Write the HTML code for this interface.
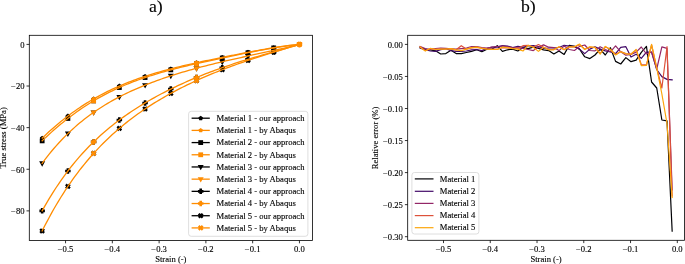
<!DOCTYPE html><html><head><meta charset="utf-8"><style>html,body{margin:0;padding:0;background:#fff;width:685px;height:264px;overflow:hidden}svg text{font-family:"Liberation Serif",serif;stroke:#000;stroke-width:0.12px}svg{will-change:transform}</style></head><body><svg width="685" height="264" viewBox="0 0 685 264" style="position:absolute;left:0;top:0" font-family="Liberation Serif" font-size="8.62">
<rect width="685" height="264" fill="#fff"/>
<defs><clipPath id="cl"><rect x="29.3" y="35.3" width="283.09999999999997" height="205.2"/></clipPath><clipPath id="cr"><rect x="407.7" y="35.3" width="276.7" height="205.0"/></clipPath></defs>
<g clip-path="url(#cl)">
<polygon points="273.72,45.29 276.05,46.98 275.16,49.72 272.28,49.72 271.39,46.98" fill="#000"/>
<polygon points="247.99,49.85 250.32,51.54 249.43,54.28 246.55,54.28 245.66,51.54" fill="#000"/>
<polygon points="222.26,54.91 224.59,56.61 223.70,59.35 220.82,59.35 219.93,56.61" fill="#000"/>
<polygon points="196.53,60.34 198.86,62.03 197.97,64.77 195.09,64.77 194.20,62.03" fill="#000"/>
<polygon points="170.80,66.44 173.14,68.13 172.25,70.87 169.36,70.87 168.47,68.13" fill="#000"/>
<polygon points="145.08,73.89 147.41,75.58 146.52,78.32 143.64,78.32 142.75,75.58" fill="#000"/>
<polygon points="119.35,83.58 121.68,85.27 120.79,88.01 117.91,88.01 117.02,85.27" fill="#000"/>
<polygon points="93.62,96.49 95.95,98.19 95.06,100.93 92.18,100.93 91.29,98.19" fill="#000"/>
<polygon points="67.89,113.59 70.22,115.29 69.33,118.03 66.45,118.03 65.56,115.29" fill="#000"/>
<polygon points="42.16,135.69 44.49,137.39 43.60,140.13 40.72,140.13 39.83,137.39" fill="#000"/>
<rect x="271.32" y="45.50" width="4.80" height="4.80" fill="#000"/>
<rect x="245.59" y="50.33" width="4.80" height="4.80" fill="#000"/>
<rect x="219.86" y="55.63" width="4.80" height="4.80" fill="#000"/>
<rect x="194.13" y="61.23" width="4.80" height="4.80" fill="#000"/>
<rect x="168.40" y="67.48" width="4.80" height="4.80" fill="#000"/>
<rect x="142.68" y="75.14" width="4.80" height="4.80" fill="#000"/>
<rect x="116.95" y="85.14" width="4.80" height="4.80" fill="#000"/>
<rect x="91.22" y="98.48" width="4.80" height="4.80" fill="#000"/>
<rect x="65.49" y="116.06" width="4.80" height="4.80" fill="#000"/>
<rect x="39.76" y="138.47" width="4.80" height="4.80" fill="#000"/>
<polygon points="270.72,48.45 276.72,48.45 273.72,53.85" fill="#000"/>
<polygon points="244.99,53.99 250.99,53.99 247.99,59.39" fill="#000"/>
<polygon points="219.26,59.76 225.26,59.76 222.26,65.16" fill="#000"/>
<polygon points="193.53,66.24 199.53,66.24 196.53,71.64" fill="#000"/>
<polygon points="167.80,73.86 173.80,73.86 170.80,79.26" fill="#000"/>
<polygon points="142.08,83.13 148.08,83.13 145.08,88.53" fill="#000"/>
<polygon points="116.35,94.89 122.35,94.89 119.35,100.29" fill="#000"/>
<polygon points="90.62,110.41 96.62,110.41 93.62,115.81" fill="#000"/>
<polygon points="64.89,131.61 70.89,131.61 67.89,137.01" fill="#000"/>
<polygon points="39.16,161.26 45.16,161.26 42.16,166.66" fill="#000"/>
<path d="M272.42,49.07h2.60v1.45h1.45v2.60h-1.45v1.45h-2.60v-1.45h-1.45v-2.60h1.45z" fill="#000"/>
<path d="M246.69,56.55h2.60v1.45h1.45v2.60h-1.45v1.45h-2.60v-1.45h-1.45v-2.60h1.45z" fill="#000"/>
<path d="M220.96,64.94h2.60v1.45h1.45v2.60h-1.45v1.45h-2.60v-1.45h-1.45v-2.60h1.45z" fill="#000"/>
<path d="M195.23,74.73h2.60v1.45h1.45v2.60h-1.45v1.45h-2.60v-1.45h-1.45v-2.60h1.45z" fill="#000"/>
<path d="M169.50,86.30h2.60v1.45h1.45v2.60h-1.45v1.45h-2.60v-1.45h-1.45v-2.60h1.45z" fill="#000"/>
<path d="M143.78,100.18h2.60v1.45h1.45v2.60h-1.45v1.45h-2.60v-1.45h-1.45v-2.60h1.45z" fill="#000"/>
<path d="M118.05,117.28h2.60v1.45h1.45v2.60h-1.45v1.45h-2.60v-1.45h-1.45v-2.60h1.45z" fill="#000"/>
<path d="M92.32,139.15h2.60v1.45h1.45v2.60h-1.45v1.45h-2.60v-1.45h-1.45v-2.60h1.45z" fill="#000"/>
<path d="M66.59,168.24h2.60v1.45h1.45v2.60h-1.45v1.45h-2.60v-1.45h-1.45v-2.60h1.45z" fill="#000"/>
<path d="M40.86,208.10h2.60v1.45h1.45v2.60h-1.45v1.45h-2.60v-1.45h-1.45v-2.60h1.45z" fill="#000"/>
<polygon points="274.85,49.38 276.55,51.08 275.42,52.21 276.55,53.34 274.85,55.04 273.72,53.91 272.59,55.04 270.89,53.34 272.02,52.21 270.89,51.08 272.59,49.38 273.72,50.51" fill="#000"/>
<polygon points="249.12,57.62 250.82,59.32 249.69,60.45 250.82,61.58 249.12,63.27 247.99,62.14 246.86,63.27 245.16,61.58 246.29,60.45 245.16,59.32 246.86,57.62 247.99,58.75" fill="#000"/>
<polygon points="223.39,66.91 225.09,68.61 223.96,69.74 225.09,70.87 223.39,72.57 222.26,71.43 221.13,72.57 219.43,70.87 220.57,69.74 219.43,68.61 221.13,66.91 222.26,68.04" fill="#000"/>
<polygon points="197.67,77.72 199.36,79.42 198.23,80.55 199.36,81.68 197.67,83.38 196.53,82.25 195.40,83.38 193.71,81.68 194.84,80.55 193.71,79.42 195.40,77.72 196.53,78.85" fill="#000"/>
<polygon points="171.94,90.56 173.63,92.26 172.50,93.39 173.63,94.52 171.94,96.22 170.80,95.08 169.67,96.22 167.98,94.52 169.11,93.39 167.98,92.26 169.67,90.56 170.80,91.69" fill="#000"/>
<polygon points="146.21,106.13 147.90,107.83 146.77,108.96 147.90,110.09 146.21,111.79 145.08,110.66 143.94,111.79 142.25,110.09 143.38,108.96 142.25,107.83 143.94,106.13 145.08,107.27" fill="#000"/>
<polygon points="120.48,125.57 122.18,127.26 121.04,128.39 122.18,129.53 120.48,131.22 119.35,130.09 118.22,131.22 116.52,129.53 117.65,128.39 116.52,127.26 118.22,125.57 119.35,126.70" fill="#000"/>
<polygon points="94.75,150.56 96.45,152.26 95.32,153.39 96.45,154.52 94.75,156.22 93.62,155.09 92.49,156.22 90.79,154.52 91.92,153.39 90.79,152.26 92.49,150.56 93.62,151.69" fill="#000"/>
<polygon points="69.02,183.60 70.72,185.30 69.59,186.43 70.72,187.56 69.02,189.26 67.89,188.12 66.76,189.26 65.06,187.56 66.19,186.43 65.06,185.30 66.76,183.60 67.89,184.73" fill="#000"/>
<polygon points="43.29,228.13 44.99,229.83 43.86,230.96 44.99,232.09 43.29,233.79 42.16,232.66 41.03,233.79 39.33,232.09 40.46,230.96 39.33,229.83 41.03,228.13 42.16,229.26" fill="#000"/>
<polyline points="299.45,44.40 297.11,44.62 294.77,44.86 292.43,45.12 290.09,45.40 287.75,45.69 285.42,46.00 283.08,46.32 280.74,46.66 278.40,47.01 276.06,47.36 273.72,47.74 271.38,48.11 269.04,48.50 266.70,48.90 264.37,49.31 262.03,49.72 259.69,50.13 257.35,50.56 255.01,50.99 252.67,51.42 250.33,51.86 247.99,52.30 245.65,52.75 243.31,53.19 240.97,53.65 238.64,54.10 236.30,54.56 233.96,55.02 231.62,55.48 229.28,55.95 226.94,56.42 224.60,56.89 222.26,57.36 219.92,57.84 217.58,58.32 215.25,58.80 212.91,59.29 210.57,59.77 208.23,60.27 205.89,60.76 203.55,61.26 201.21,61.76 198.87,62.27 196.53,62.79 194.19,63.30 191.86,63.83 189.52,64.36 187.18,64.90 184.84,65.44 182.50,65.99 180.16,66.55 177.82,67.12 175.48,67.70 173.14,68.29 170.80,68.89 168.47,69.50 166.13,70.12 163.79,70.75 161.45,71.40 159.11,72.06 156.77,72.73 154.43,73.42 152.09,74.13 149.75,74.85 147.41,75.59 145.08,76.34 142.74,77.11 140.40,77.91 138.06,78.72 135.72,79.55 133.38,80.41 131.04,81.29 128.70,82.19 126.36,83.11 124.02,84.06 121.69,85.03 119.35,86.03 117.01,87.06 114.67,88.11 112.33,89.19 109.99,90.30 107.65,91.44 105.31,92.61 102.97,93.81 100.63,95.05 98.30,96.31 95.96,97.61 93.62,98.94 91.28,100.31 88.94,101.72 86.60,103.15 84.26,104.63 81.92,106.14 79.58,107.70 77.24,109.29 74.91,110.91 72.57,112.58 70.23,114.29 67.89,116.04 65.55,117.84 63.21,119.67 60.87,121.55 58.53,123.47 56.19,125.43 53.85,127.44 51.52,129.49 49.18,131.58 46.84,133.73 44.50,135.91 42.16,138.14" fill="none" stroke="#ff8c00" stroke-width="1.3" stroke-linejoin="round" stroke-linecap="square"/>
<polygon points="299.45,41.95 301.78,43.64 300.89,46.38 298.01,46.38 297.12,43.64" fill="#ff8c00"/>
<polygon points="196.53,60.34 198.86,62.03 197.97,64.77 195.09,64.77 194.20,62.03" fill="#ff8c00"/>
<polygon points="93.62,96.49 95.95,98.19 95.06,100.93 92.18,100.93 91.29,98.19" fill="#ff8c00"/>
<polyline points="299.45,44.40 297.11,44.62 294.77,44.87 292.43,45.14 290.09,45.43 287.75,45.74 285.42,46.06 283.08,46.40 280.74,46.76 278.40,47.12 276.06,47.51 273.72,47.90 271.38,48.30 269.04,48.71 266.70,49.13 264.37,49.56 262.03,50.00 259.69,50.44 257.35,50.89 255.01,51.34 252.67,51.80 250.33,52.26 247.99,52.73 245.65,53.20 243.31,53.67 240.97,54.15 238.64,54.63 236.30,55.11 233.96,55.59 231.62,56.07 229.28,56.56 226.94,57.05 224.60,57.54 222.26,58.03 219.92,58.52 217.58,59.02 215.25,59.52 212.91,60.02 210.57,60.53 208.23,61.03 205.89,61.54 203.55,62.06 201.21,62.58 198.87,63.10 196.53,63.63 194.19,64.16 191.86,64.70 189.52,65.24 187.18,65.79 184.84,66.35 182.50,66.92 180.16,67.49 177.82,68.08 175.48,68.67 173.14,69.27 170.80,69.88 168.47,70.51 166.13,71.15 163.79,71.80 161.45,72.46 159.11,73.14 156.77,73.83 154.43,74.54 152.09,75.26 149.75,76.00 147.41,76.76 145.08,77.54 142.74,78.34 140.40,79.15 138.06,79.99 135.72,80.85 133.38,81.73 131.04,82.64 128.70,83.57 126.36,84.52 124.02,85.50 121.69,86.51 119.35,87.54 117.01,88.60 114.67,89.69 112.33,90.81 109.99,91.95 107.65,93.13 105.31,94.34 102.97,95.58 100.63,96.86 98.30,98.17 95.96,99.51 93.62,100.88 91.28,102.29 88.94,103.74 86.60,105.22 84.26,106.74 81.92,108.30 79.58,109.90 77.24,111.53 74.91,113.20 72.57,114.91 70.23,116.67 67.89,118.46 65.55,120.29 63.21,122.16 60.87,124.07 58.53,126.03 56.19,128.02 53.85,130.06 51.52,132.14 49.18,134.26 46.84,136.42 44.50,138.63 42.16,140.87" fill="none" stroke="#ff8c00" stroke-width="1.3" stroke-linejoin="round" stroke-linecap="square"/>
<rect x="297.05" y="42.00" width="4.80" height="4.80" fill="#ff8c00"/>
<rect x="194.13" y="61.23" width="4.80" height="4.80" fill="#ff8c00"/>
<rect x="91.22" y="98.48" width="4.80" height="4.80" fill="#ff8c00"/>
<polyline points="299.45,44.40 297.11,45.00 294.77,45.58 292.43,46.16 290.09,46.72 287.75,47.27 285.42,47.82 283.08,48.36 280.74,48.89 278.40,49.41 276.06,49.93 273.72,50.45 271.38,50.96 269.04,51.47 266.70,51.97 264.37,52.47 262.03,52.98 259.69,53.48 257.35,53.98 255.01,54.48 252.67,54.98 250.33,55.48 247.99,55.99 245.65,56.50 243.31,57.01 240.97,57.52 238.64,58.03 236.30,58.55 233.96,59.07 231.62,59.60 229.28,60.13 226.94,60.67 224.60,61.21 222.26,61.76 219.92,62.31 217.58,62.87 215.25,63.44 212.91,64.01 210.57,64.59 208.23,65.18 205.89,65.78 203.55,66.38 201.21,66.99 198.87,67.61 196.53,68.24 194.19,68.88 191.86,69.53 189.52,70.19 187.18,70.86 184.84,71.54 182.50,72.23 180.16,72.93 177.82,73.64 175.48,74.37 173.14,75.11 170.80,75.86 168.47,76.62 166.13,77.40 163.79,78.20 161.45,79.00 159.11,79.83 156.77,80.67 154.43,81.53 152.09,82.40 149.75,83.29 147.41,84.20 145.08,85.13 142.74,86.09 140.40,87.06 138.06,88.05 135.72,89.07 133.38,90.11 131.04,91.17 128.70,92.26 126.36,93.37 124.02,94.52 121.69,95.69 119.35,96.89 117.01,98.12 114.67,99.38 112.33,100.68 109.99,102.01 107.65,103.38 105.31,104.78 102.97,106.22 100.63,107.70 98.30,109.23 95.96,110.79 93.62,112.41 91.28,114.06 88.94,115.77 86.60,117.53 84.26,119.33 81.92,121.20 79.58,123.11 77.24,125.09 74.91,127.12 72.57,129.22 70.23,131.38 67.89,133.61 65.55,135.91 63.21,138.28 60.87,140.72 58.53,143.24 56.19,145.84 53.85,148.52 51.52,151.29 49.18,154.14 46.84,157.08 44.50,160.12 42.16,163.26" fill="none" stroke="#ff8c00" stroke-width="1.3" stroke-linejoin="round" stroke-linecap="square"/>
<polygon points="296.45,42.40 302.45,42.40 299.45,47.80" fill="#ff8c00"/>
<polygon points="193.53,66.24 199.53,66.24 196.53,71.64" fill="#ff8c00"/>
<polygon points="90.62,110.41 96.62,110.41 93.62,115.81" fill="#ff8c00"/>
<polyline points="299.45,44.40 297.11,45.10 294.77,45.80 292.43,46.49 290.09,47.17 287.75,47.84 285.42,48.51 283.08,49.18 280.74,49.84 278.40,50.50 276.06,51.16 273.72,51.82 271.38,52.48 269.04,53.14 266.70,53.81 264.37,54.48 262.03,55.15 259.69,55.83 257.35,56.51 255.01,57.20 252.67,57.89 250.33,58.59 247.99,59.30 245.65,60.02 243.31,60.74 240.97,61.47 238.64,62.22 236.30,62.97 233.96,63.73 231.62,64.50 229.28,65.28 226.94,66.07 224.60,66.88 222.26,67.69 219.92,68.52 217.58,69.35 215.25,70.20 212.91,71.07 210.57,71.94 208.23,72.83 205.89,73.73 203.55,74.65 201.21,75.58 198.87,76.52 196.53,77.48 194.19,78.45 191.86,79.44 189.52,80.44 187.18,81.46 184.84,82.49 182.50,83.54 180.16,84.61 177.82,85.69 175.48,86.79 173.14,87.91 170.80,89.05 168.47,90.20 166.13,91.38 163.79,92.57 161.45,93.79 159.11,95.03 156.77,96.28 154.43,97.57 152.09,98.87 149.75,100.20 147.41,101.55 145.08,102.93 142.74,104.33 140.40,105.76 138.06,107.22 135.72,108.71 133.38,110.22 131.04,111.77 128.70,113.35 126.36,114.97 124.02,116.62 121.69,118.30 119.35,120.03 117.01,121.79 114.67,123.59 112.33,125.44 109.99,127.32 107.65,129.26 105.31,131.24 102.97,133.26 100.63,135.34 98.30,137.47 95.96,139.66 93.62,141.90 91.28,144.20 88.94,146.57 86.60,148.99 84.26,151.48 81.92,154.04 79.58,156.68 77.24,159.38 74.91,162.16 72.57,165.02 70.23,167.96 67.89,170.99 65.55,174.10 63.21,177.31 60.87,180.61 58.53,184.01 56.19,187.51 53.85,191.11 51.52,194.83 49.18,198.65 46.84,202.60 44.50,206.66 42.16,210.85" fill="none" stroke="#ff8c00" stroke-width="1.3" stroke-linejoin="round" stroke-linecap="square"/>
<path d="M298.15,41.65h2.60v1.45h1.45v2.60h-1.45v1.45h-2.60v-1.45h-1.45v-2.60h1.45z" fill="#ff8c00"/>
<path d="M195.23,74.73h2.60v1.45h1.45v2.60h-1.45v1.45h-2.60v-1.45h-1.45v-2.60h1.45z" fill="#ff8c00"/>
<path d="M92.32,139.15h2.60v1.45h1.45v2.60h-1.45v1.45h-2.60v-1.45h-1.45v-2.60h1.45z" fill="#ff8c00"/>
<polyline points="299.45,44.40 297.11,45.11 294.77,45.83 292.43,46.54 290.09,47.24 287.75,47.95 285.42,48.66 283.08,49.36 280.74,50.07 278.40,50.78 276.06,51.49 273.72,52.21 271.38,52.93 269.04,53.65 266.70,54.38 264.37,55.12 262.03,55.86 259.69,56.60 257.35,57.36 255.01,58.12 252.67,58.89 250.33,59.66 247.99,60.45 245.65,61.24 243.31,62.04 240.97,62.85 238.64,63.68 236.30,64.51 233.96,65.35 231.62,66.21 229.28,67.07 226.94,67.95 224.60,68.84 222.26,69.74 219.92,70.65 217.58,71.58 215.25,72.52 212.91,73.47 210.57,74.44 208.23,75.42 205.89,76.41 203.55,77.42 201.21,78.45 198.87,79.49 196.53,80.55 194.19,81.63 191.86,82.72 189.52,83.83 187.18,84.95 184.84,86.10 182.50,87.26 180.16,88.45 177.82,89.65 175.48,90.88 173.14,92.12 170.80,93.39 168.47,94.68 166.13,95.99 163.79,97.33 161.45,98.69 159.11,100.07 156.77,101.48 154.43,102.92 152.09,104.39 149.75,105.88 147.41,107.41 145.08,108.96 142.74,110.55 140.40,112.17 138.06,113.82 135.72,115.51 133.38,117.23 131.04,118.99 128.70,120.79 126.36,122.63 124.02,124.51 121.69,126.43 119.35,128.39 117.01,130.41 114.67,132.46 112.33,134.57 109.99,136.73 107.65,138.94 105.31,141.20 102.97,143.52 100.63,145.89 98.30,148.33 95.96,150.83 93.62,153.39 91.28,156.01 88.94,158.71 86.60,161.48 84.26,164.31 81.92,167.23 79.58,170.22 77.24,173.29 74.91,176.44 72.57,179.68 70.23,183.01 67.89,186.43 65.55,189.94 63.21,193.55 60.87,197.26 58.53,201.08 56.19,205.00 53.85,209.03 51.52,213.17 49.18,217.44 46.84,221.82 44.50,226.32 42.16,230.96" fill="none" stroke="#ff8c00" stroke-width="1.3" stroke-linejoin="round" stroke-linecap="square"/>
<polygon points="300.58,41.57 302.28,43.27 301.15,44.40 302.28,45.53 300.58,47.23 299.45,46.10 298.32,47.23 296.62,45.53 297.75,44.40 296.62,43.27 298.32,41.57 299.45,42.70" fill="#ff8c00"/>
<polygon points="197.67,77.72 199.36,79.42 198.23,80.55 199.36,81.68 197.67,83.38 196.53,82.25 195.40,83.38 193.71,81.68 194.84,80.55 193.71,79.42 195.40,77.72 196.53,78.85" fill="#ff8c00"/>
<polygon points="94.75,150.56 96.45,152.26 95.32,153.39 96.45,154.52 94.75,156.22 93.62,155.09 92.49,156.22 90.79,154.52 91.92,153.39 90.79,152.26 92.49,150.56 93.62,151.69" fill="#ff8c00"/>
</g>
<rect x="29.3" y="35.3" width="283.10" height="205.20" fill="none" stroke="#000" stroke-width="0.8"/>
<line x1="65.55" y1="240.5" x2="65.55" y2="243.3" stroke="#000" stroke-width="0.8"/>
<text x="65.55" y="251.8" text-anchor="middle">−0.5</text>
<line x1="112.33" y1="240.5" x2="112.33" y2="243.3" stroke="#000" stroke-width="0.8"/>
<text x="112.33" y="251.8" text-anchor="middle">−0.4</text>
<line x1="159.11" y1="240.5" x2="159.11" y2="243.3" stroke="#000" stroke-width="0.8"/>
<text x="159.11" y="251.8" text-anchor="middle">−0.3</text>
<line x1="205.89" y1="240.5" x2="205.89" y2="243.3" stroke="#000" stroke-width="0.8"/>
<text x="205.89" y="251.8" text-anchor="middle">−0.2</text>
<line x1="252.67" y1="240.5" x2="252.67" y2="243.3" stroke="#000" stroke-width="0.8"/>
<text x="252.67" y="251.8" text-anchor="middle">−0.1</text>
<line x1="299.45" y1="240.5" x2="299.45" y2="243.3" stroke="#000" stroke-width="0.8"/>
<text x="299.45" y="251.8" text-anchor="middle">0.0</text>
<line x1="26.5" y1="44.40" x2="29.3" y2="44.40" stroke="#000" stroke-width="0.8"/>
<text x="24.5" y="47.70" text-anchor="end">0</text>
<line x1="26.5" y1="86.02" x2="29.3" y2="86.02" stroke="#000" stroke-width="0.8"/>
<text x="24.5" y="89.32" text-anchor="end">−20</text>
<line x1="26.5" y1="127.64" x2="29.3" y2="127.64" stroke="#000" stroke-width="0.8"/>
<text x="24.5" y="130.94" text-anchor="end">−40</text>
<line x1="26.5" y1="169.26" x2="29.3" y2="169.26" stroke="#000" stroke-width="0.8"/>
<text x="24.5" y="172.56" text-anchor="end">−60</text>
<line x1="26.5" y1="210.88" x2="29.3" y2="210.88" stroke="#000" stroke-width="0.8"/>
<text x="24.5" y="214.18" text-anchor="end">−80</text>
<text x="170.85" y="262" text-anchor="middle">Strain (-)</text>
<text transform="translate(6.2,137.9) rotate(-90)" text-anchor="middle">True stress (MPa)</text>
<text x="149" y="12.4" font-size="17.7">a)</text>
<rect x="188.6" y="111.3" width="119.3" height="125.0" rx="2.6" fill="#fff" fill-opacity="0.8" stroke="#d6d6d6" stroke-width="0.8"/>
<line x1="191.6" y1="118.20" x2="209.8" y2="118.20" stroke="#000" stroke-width="1.3"/>
<polygon points="200.70,115.75 203.03,117.44 202.14,120.18 199.26,120.18 198.37,117.44" fill="#000"/>
<text x="216.5" y="121.00">Material 1 - our approach</text>
<line x1="191.6" y1="130.39" x2="209.8" y2="130.39" stroke="#ff8c00" stroke-width="1.3"/>
<polygon points="200.70,127.94 203.03,129.63 202.14,132.37 199.26,132.37 198.37,129.63" fill="#ff8c00"/>
<text x="216.5" y="133.19">Material 1 - by Abaqus</text>
<line x1="191.6" y1="142.58" x2="209.8" y2="142.58" stroke="#000" stroke-width="1.3"/>
<rect x="198.30" y="140.18" width="4.80" height="4.80" fill="#000"/>
<text x="216.5" y="145.38">Material 2 - our approach</text>
<line x1="191.6" y1="154.77" x2="209.8" y2="154.77" stroke="#ff8c00" stroke-width="1.3"/>
<rect x="198.30" y="152.37" width="4.80" height="4.80" fill="#ff8c00"/>
<text x="216.5" y="157.57">Material 2 - by Abaqus</text>
<line x1="191.6" y1="166.96" x2="209.8" y2="166.96" stroke="#000" stroke-width="1.3"/>
<polygon points="197.70,164.96 203.70,164.96 200.70,170.36" fill="#000"/>
<text x="216.5" y="169.76">Material 3 - our approach</text>
<line x1="191.6" y1="179.15" x2="209.8" y2="179.15" stroke="#ff8c00" stroke-width="1.3"/>
<polygon points="197.70,177.15 203.70,177.15 200.70,182.55" fill="#ff8c00"/>
<text x="216.5" y="181.95">Material 3 - by Abaqus</text>
<line x1="191.6" y1="191.34" x2="209.8" y2="191.34" stroke="#000" stroke-width="1.3"/>
<path d="M199.40,188.59h2.60v1.45h1.45v2.60h-1.45v1.45h-2.60v-1.45h-1.45v-2.60h1.45z" fill="#000"/>
<text x="216.5" y="194.14">Material 4 - our approach</text>
<line x1="191.6" y1="203.53" x2="209.8" y2="203.53" stroke="#ff8c00" stroke-width="1.3"/>
<path d="M199.40,200.78h2.60v1.45h1.45v2.60h-1.45v1.45h-2.60v-1.45h-1.45v-2.60h1.45z" fill="#ff8c00"/>
<text x="216.5" y="206.33">Material 4 - by Abaqus</text>
<line x1="191.6" y1="215.72" x2="209.8" y2="215.72" stroke="#000" stroke-width="1.3"/>
<polygon points="201.83,212.89 203.53,214.59 202.40,215.72 203.53,216.85 201.83,218.55 200.70,217.42 199.57,218.55 197.87,216.85 199.00,215.72 197.87,214.59 199.57,212.89 200.70,214.02" fill="#000"/>
<text x="216.5" y="218.52">Material 5 - our approach</text>
<line x1="191.6" y1="227.91" x2="209.8" y2="227.91" stroke="#ff8c00" stroke-width="1.3"/>
<polygon points="201.83,225.08 203.53,226.78 202.40,227.91 203.53,229.04 201.83,230.74 200.70,229.61 199.57,230.74 197.87,229.04 199.00,227.91 197.87,226.78 199.57,225.08 200.70,226.21" fill="#ff8c00"/>
<text x="216.5" y="230.71">Material 5 - by Abaqus</text>
<g clip-path="url(#cr)">
<polyline points="672.16,231.20 667.01,120.80 661.87,120.00 656.73,88.00 651.58,82.00 646.44,46.40 641.29,52.30 636.15,60.20 631.01,61.70 625.86,57.60 620.72,64.00 615.58,61.40 610.43,47.70 605.29,55.00 600.15,49.10 595.00,55.00 589.86,58.60 584.72,56.80 579.57,49.10 574.43,46.40 569.28,45.30 564.14,54.40 559.00,51.00 553.85,54.00 548.71,50.60 543.57,49.80 538.42,48.30 533.28,47.20 528.14,48.70 522.99,47.60 517.85,51.00 512.70,49.10 507.56,49.80 502.42,51.40 497.27,45.70 492.13,49.10 486.99,49.10 481.84,51.70 476.70,49.80 471.56,51.40 466.41,52.50 461.27,53.60 456.13,53.60 450.98,50.30 445.84,53.60 440.69,54.00 435.55,50.80 430.41,50.00 425.26,49.00 420.12,47.60" fill="none" stroke="#000004" stroke-width="1.2" stroke-linejoin="round" stroke-linecap="square"/>
<polyline points="672.16,79.90 667.01,79.40 661.87,76.60 656.73,69.50 651.58,52.10 646.44,52.10 641.29,58.30 636.15,54.30 631.01,57.00 625.86,46.70 620.72,47.30 615.58,53.60 610.43,51.80 605.29,50.90 600.15,49.10 595.00,46.80 589.86,49.10 584.72,53.60 579.57,49.10 574.43,46.40 569.28,46.10 564.14,45.30 559.00,47.50 553.85,48.00 548.71,48.00 543.57,48.50 538.42,46.50 533.28,45.50 528.14,46.00 522.99,47.20 517.85,46.40 512.70,47.60 507.56,46.10 502.42,45.70 497.27,47.20 492.13,47.20 486.99,48.30 481.84,50.60 476.70,49.50 471.56,49.80 466.41,51.00 461.27,51.40 456.13,51.40 450.98,50.60 445.84,48.70 440.69,49.60 435.55,51.40 430.41,51.00 425.26,49.60 420.12,48.00" fill="none" stroke="#420a68" stroke-width="1.2" stroke-linejoin="round" stroke-linecap="square"/>
<polyline points="672.16,190.00 667.01,48.30 661.87,46.80 656.73,69.00 651.58,52.00 646.44,54.00 641.29,47.00 636.15,52.10 631.01,54.50 625.86,55.20 620.72,51.80 615.58,45.90 610.43,51.80 605.29,49.50 600.15,46.80 595.00,50.90 589.86,50.50 584.72,45.00 579.57,46.40 574.43,50.50 569.28,49.50 564.14,46.10 559.00,50.60 553.85,47.60 548.71,47.20 543.57,44.90 538.42,47.20 533.28,50.60 528.14,49.50 522.99,48.30 517.85,47.80 512.70,47.50 507.56,46.80 502.42,46.00 497.27,46.50 492.13,47.00 486.99,48.00 481.84,47.50 476.70,46.50 471.56,46.50 466.41,48.00 461.27,48.60 456.13,49.20 450.98,48.80 445.84,48.40 440.69,48.00 435.55,48.50 430.41,49.50 425.26,48.50 420.12,46.60" fill="none" stroke="#932667" stroke-width="1.2" stroke-linejoin="round" stroke-linecap="square"/>
<polyline points="672.16,196.00 667.01,46.70 661.87,88.00 656.73,68.00 651.58,45.00 646.44,64.80 641.29,64.50 636.15,50.00 631.01,54.00 625.86,53.50 620.72,51.50 615.58,54.50 610.43,49.50 605.29,46.80 600.15,53.50 595.00,47.50 589.86,47.00 584.72,49.20 579.57,44.60 574.43,47.00 569.28,47.00 564.14,49.50 559.00,47.00 553.85,49.50 548.71,49.50 543.57,47.20 538.42,44.50 533.28,47.20 528.14,45.30 522.99,45.70 517.85,48.20 512.70,48.50 507.56,47.80 502.42,47.60 497.27,49.20 492.13,49.20 486.99,48.80 481.84,48.20 476.70,47.40 471.56,47.80 466.41,49.10 461.27,45.70 456.13,49.80 450.98,48.80 445.84,49.00 440.69,49.00 435.55,49.20 430.41,48.60 425.26,50.60 420.12,46.60" fill="none" stroke="#dd513a" stroke-width="1.2" stroke-linejoin="round" stroke-linecap="square"/>
<polyline points="672.16,197.50 667.01,123.50 661.87,94.00 656.73,68.00 651.58,44.40 646.44,65.30 641.29,65.60 636.15,49.40 631.01,54.30 625.86,53.90 620.72,51.80 615.58,55.00 610.43,49.50 605.29,46.40 600.15,54.10 595.00,47.30 589.86,46.80 584.72,49.50 579.57,44.10 574.43,46.80 569.28,46.80 564.14,49.80 559.00,46.80 553.85,49.80 548.71,49.80 543.57,47.20 538.42,51.40 533.28,47.20 528.14,45.30 522.99,51.00 517.85,49.10 512.70,48.70 507.56,47.60 502.42,47.20 497.27,49.50 492.13,49.50 486.99,49.10 481.84,48.30 476.70,47.20 471.56,47.60 466.41,49.10 461.27,50.60 456.13,49.80 450.98,48.70 445.84,49.10 440.69,49.20 435.55,49.50 430.41,48.30 425.26,51.00 420.12,47.20" fill="none" stroke="#fca50a" stroke-width="1.2" stroke-linejoin="round" stroke-linecap="square"/>
</g>
<rect x="407.7" y="35.3" width="276.70" height="205.00" fill="none" stroke="#000" stroke-width="0.8"/>
<line x1="443.50" y1="240.3" x2="443.50" y2="243.10000000000002" stroke="#000" stroke-width="0.8"/>
<text x="443.50" y="251.8" text-anchor="middle">−0.5</text>
<line x1="490.26" y1="240.3" x2="490.26" y2="243.10000000000002" stroke="#000" stroke-width="0.8"/>
<text x="490.26" y="251.8" text-anchor="middle">−0.4</text>
<line x1="537.02" y1="240.3" x2="537.02" y2="243.10000000000002" stroke="#000" stroke-width="0.8"/>
<text x="537.02" y="251.8" text-anchor="middle">−0.3</text>
<line x1="583.78" y1="240.3" x2="583.78" y2="243.10000000000002" stroke="#000" stroke-width="0.8"/>
<text x="583.78" y="251.8" text-anchor="middle">−0.2</text>
<line x1="630.54" y1="240.3" x2="630.54" y2="243.10000000000002" stroke="#000" stroke-width="0.8"/>
<text x="630.54" y="251.8" text-anchor="middle">−0.1</text>
<line x1="677.30" y1="240.3" x2="677.30" y2="243.10000000000002" stroke="#000" stroke-width="0.8"/>
<text x="677.30" y="251.8" text-anchor="middle">0.0</text>
<line x1="404.9" y1="44.40" x2="407.7" y2="44.40" stroke="#000" stroke-width="0.8"/>
<text x="402.9" y="47.50" text-anchor="end">0.00</text>
<line x1="404.9" y1="76.45" x2="407.7" y2="76.45" stroke="#000" stroke-width="0.8"/>
<text x="402.9" y="79.55" text-anchor="end">−0.05</text>
<line x1="404.9" y1="108.50" x2="407.7" y2="108.50" stroke="#000" stroke-width="0.8"/>
<text x="402.9" y="111.60" text-anchor="end">−0.10</text>
<line x1="404.9" y1="140.55" x2="407.7" y2="140.55" stroke="#000" stroke-width="0.8"/>
<text x="402.9" y="143.65" text-anchor="end">−0.15</text>
<line x1="404.9" y1="172.60" x2="407.7" y2="172.60" stroke="#000" stroke-width="0.8"/>
<text x="402.9" y="175.70" text-anchor="end">−0.20</text>
<line x1="404.9" y1="204.65" x2="407.7" y2="204.65" stroke="#000" stroke-width="0.8"/>
<text x="402.9" y="207.75" text-anchor="end">−0.25</text>
<line x1="404.9" y1="236.70" x2="407.7" y2="236.70" stroke="#000" stroke-width="0.8"/>
<text x="402.9" y="239.80" text-anchor="end">−0.30</text>
<text x="546.05" y="262" text-anchor="middle">Strain (-)</text>
<text transform="translate(377.7,138.0) rotate(-90)" text-anchor="middle">Relative error (%)</text>
<text x="521" y="12.4" font-size="17.7">b)</text>
<rect x="411.9" y="172.5" width="67" height="61.5" rx="2.6" fill="#fff" fill-opacity="0.8" stroke="#d6d6d6" stroke-width="0.8"/>
<line x1="414.8" y1="178.90" x2="433.5" y2="178.90" stroke="#000004" stroke-width="1.2"/>
<text x="439.8" y="181.70">Material 1</text>
<line x1="414.8" y1="191.30" x2="433.5" y2="191.30" stroke="#420a68" stroke-width="1.2"/>
<text x="439.8" y="193.89">Material 2</text>
<line x1="414.8" y1="203.40" x2="433.5" y2="203.40" stroke="#932667" stroke-width="1.2"/>
<text x="439.8" y="206.08">Material 3</text>
<line x1="414.8" y1="215.60" x2="433.5" y2="215.60" stroke="#dd513a" stroke-width="1.2"/>
<text x="439.8" y="218.27">Material 4</text>
<line x1="414.8" y1="227.70" x2="433.5" y2="227.70" stroke="#fca50a" stroke-width="1.2"/>
<text x="439.8" y="230.46">Material 5</text>
</svg></body></html>
